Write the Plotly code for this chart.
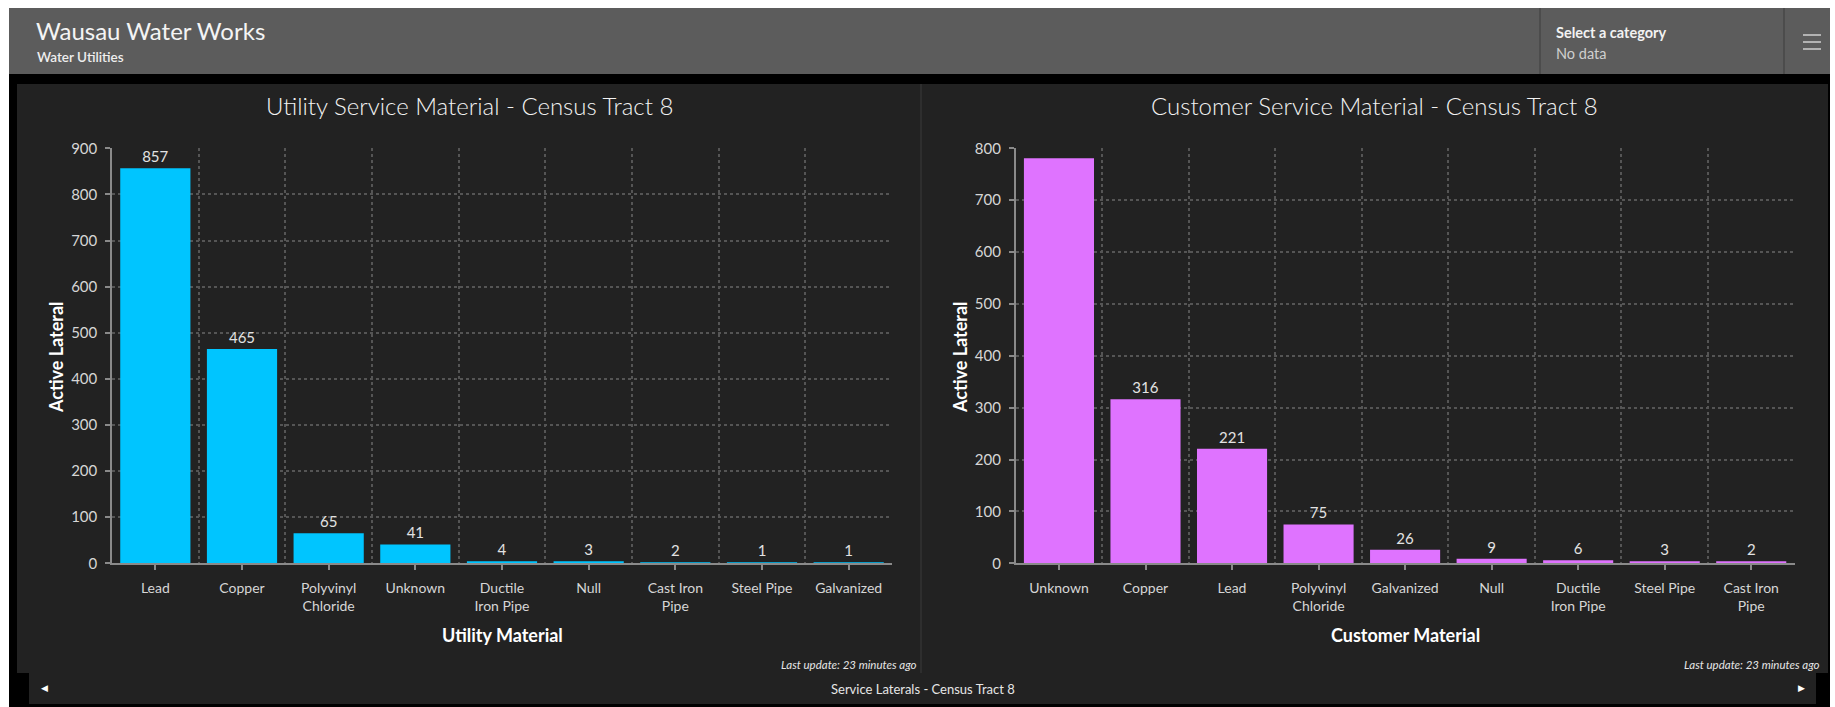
import plotly.graph_objects as go

W, H = 1835, 707

# ---- data -------------------------------------------------------------
utility_materials = ["Lead", "Copper", "Polyvinyl Chloride", "Unknown", "Ductile Iron Pipe",
                     "Null", "Cast Iron Pipe", "Steel Pipe", "Galvanized"]
utility_ticks = ["Lead", "Copper", "Polyvinyl<br>Chloride", "Unknown", "Ductile<br>Iron Pipe",
                 "Null", "Cast Iron<br>Pipe", "Steel Pipe", "Galvanized"]
utility_counts = [857, 465, 65, 41, 4, 3, 2, 1, 1]

customer_materials = ["Unknown", "Copper", "Lead", "Polyvinyl Chloride", "Galvanized",
                      "Null", "Ductile Iron Pipe", "Steel Pipe", "Cast Iron Pipe"]
customer_ticks = ["Unknown", "Copper", "Lead", "Polyvinyl<br>Chloride", "Galvanized",
                  "Null", "Ductile<br>Iron Pipe", "Steel Pipe", "Cast Iron<br>Pipe"]
customer_counts = [781, 316, 221, 75, 26, 9, 6, 3, 2]

utility_ymax = 900
customer_ymax = 800

# ---- styling ----------------------------------------------------------
FONT = "Lato"
PANEL = "#222222"
HEADER = "#5c5c5c"
AXIS = "#8a8a8a"
GRID = "#555555"
TICK_TXT = "#d6d6d6"
UTIL_COLOR = "#00c5ff"
CUST_COLOR = "#df73ff"


def fx(px):
    return px / W


def fy(py):
    return 1 - py / H


def value_labels(values, ymax):
    # values whose label would run past the top of the plot are left unlabelled
    return [str(v) if v <= ymax * 0.96 else "" for v in values]


fig = go.Figure()

fig.add_trace(go.Bar(
    x=list(range(len(utility_materials))), y=utility_counts,
    text=value_labels(utility_counts, utility_ymax), textposition="outside",
    textfont=dict(family=FONT, size=15, color="#e2e2e2"),
    marker=dict(color=UTIL_COLOR, line=dict(width=0)),
    width=0.81, cliponaxis=False, xaxis="x", yaxis="y",
    hovertext=utility_materials, hoverinfo="text+y", showlegend=False,
))
fig.add_trace(go.Bar(
    x=list(range(len(customer_materials))), y=customer_counts,
    text=value_labels(customer_counts, customer_ymax), textposition="outside",
    textfont=dict(family=FONT, size=15, color="#e2e2e2"),
    marker=dict(color=CUST_COLOR, line=dict(width=0)),
    width=0.81, cliponaxis=False, xaxis="x2", yaxis="y2",
    hovertext=customer_materials, hoverinfo="text+y", showlegend=False,
))


def x_axis(domain, anchor, ticks):
    n = len(ticks)
    return dict(
        domain=domain, anchor=anchor, range=[-0.5, n - 0.5], automargin=False,
        tickmode="array", tickvals=list(range(n)), ticktext=ticks,
        ticks="outside", ticklen=5, tickwidth=1.5, tickcolor=AXIS,
        ticklabelstandoff=6,
        showline=True, linecolor=AXIS, linewidth=1.5,
        showgrid=False, zeroline=False, fixedrange=True,
        tickfont=dict(family=FONT, size=14, color=TICK_TXT),
        minor=dict(tickmode="array", tickvals=[i - 0.5 for i in range(n + 1)],
                   showgrid=True, gridcolor=GRID, griddash="dot", gridwidth=1.5, ticks=""),
    )


def y_axis(domain, anchor, ymax):
    return dict(
        domain=domain, anchor=anchor, range=[0, ymax], tick0=0, dtick=100,
        automargin=False,
        ticks="outside", ticklen=5, tickwidth=1.5, tickcolor=AXIS,
        ticklabelstandoff=5,
        showline=True, linecolor=AXIS, linewidth=1.5,
        showgrid=True, gridcolor=GRID, griddash="dot", gridwidth=1.5,
        zeroline=False, fixedrange=True,
        tickfont=dict(family=FONT, size=15, color=TICK_TXT),
    )


ydom = [fy(563.3), fy(148.3)]
fig.update_layout(
    xaxis=x_axis([fx(112), fx(892)], "y", utility_ticks),
    yaxis=y_axis(ydom, "x", utility_ymax),
    xaxis2=x_axis([fx(1015.7), fx(1794.5)], "y2", customer_ticks),
    yaxis2=y_axis(ydom, "x2", customer_ymax),
)

# ---- dashboard frame ---------------------------------------------------
def rect(x0, y0, x1, y1, color):
    return dict(type="rect", xref="paper", yref="paper", layer="below",
                x0=fx(x0), x1=fx(x1), y0=fy(y1), y1=fy(y0),
                fillcolor=color, line=dict(width=0))


def vline(x, y0, y1, color, width=1.5):
    return dict(type="line", xref="paper", yref="paper", layer="below",
                x0=fx(x), x1=fx(x), y0=fy(y1), y1=fy(y0),
                line=dict(color=color, width=width))


def hline(x0, x1, y, color, width=2):
    return dict(type="line", xref="paper", yref="paper", layer="above",
                x0=fx(x0), x1=fx(x1), y0=fy(y), y1=fy(y),
                line=dict(color=color, width=width))


shapes = [
    rect(9, 8, 1830, 707, "#000000"),
    rect(9, 8, 1830, 74, HEADER),
    vline(1540, 8, 74, "#474747"),
    vline(1784, 8, 74, "#474747"),
    rect(17, 84, 921, 673, PANEL),
    rect(921, 84, 1828, 673, PANEL),
    rect(29, 673, 1816, 704, PANEL),
    vline(921, 84, 673, "#333333", 1.5),
    hline(1803, 1821, 35, "#cfcfcf", 1.5),
    hline(1803, 1821, 42, "#cfcfcf", 1.5),
    hline(1803, 1821, 49, "#cfcfcf", 1.5),
]


def note(text, x, y, size, color="#f0f0f0", xanchor="center", weight=None,
         style=None, angle=0, family=FONT):
    f = dict(family=family, size=size, color=color)
    if weight:
        f["weight"] = weight
    if style:
        f["style"] = style
    return dict(text=text, x=fx(x), y=fy(y), xref="paper", yref="paper",
                xanchor=xanchor, yanchor="middle", showarrow=False,
                textangle=angle, font=f)


annotations = [
    note("Wausau Water Works", 34, 31, 24, "#f4f4f4", "left", weight=400),
    note("Water Utilities", 35, 57, 13.5, "#eeeeee", "left", weight=600),
    note("Select a category", 1554, 32, 14.5, "#f2f2f2", "left", weight=700),
    note("No data", 1554, 53, 14.5, "#cfcfcf", "left"),
    note("Utility Service Material - Census Tract 8", 469, 106, 24, "#f2f2f2", weight=300),
    note("Customer Service Material - Census Tract 8", 1374.5, 106, 24, "#f2f2f2", weight=300),
    note("Active Lateral", 56, 357, 18, "#ffffff", weight=700, angle=-90),
    note("Active Lateral", 960, 357, 18, "#ffffff", weight=700, angle=-90),
    note("Utility Material", 502, 635, 18, "#ffffff", weight=700),
    note("Customer Material", 1405, 635, 18, "#ffffff", weight=700),
    note("Last update: 23 minutes ago", 919, 664, 11.5, "#e6e6e6", "right", style="italic"),
    note("Last update: 23 minutes ago", 1822, 664, 11.5, "#e6e6e6", "right", style="italic"),
    note("Service Laterals - Census Tract 8", 923, 689, 13, "#e6e6e6"),
    note("\u25C0", 44, 688, 9, "#ffffff", family="DejaVu Sans"),
    note("\u25B6", 1801, 688, 9, "#ffffff", family="DejaVu Sans"),
]

fig.update_layout(
    width=W, height=H, autosize=False,
    margin=dict(l=0, r=0, t=0, b=0, pad=0, autoexpand=False),
    paper_bgcolor="#ffffff", plot_bgcolor="rgba(0,0,0,0)",
    shapes=shapes, annotations=annotations,
    bargap=0.19, showlegend=False,
    font=dict(family=FONT, color="#f0f0f0"),
)

fig.write_html("out.html", config=dict(displayModeBar=False))
